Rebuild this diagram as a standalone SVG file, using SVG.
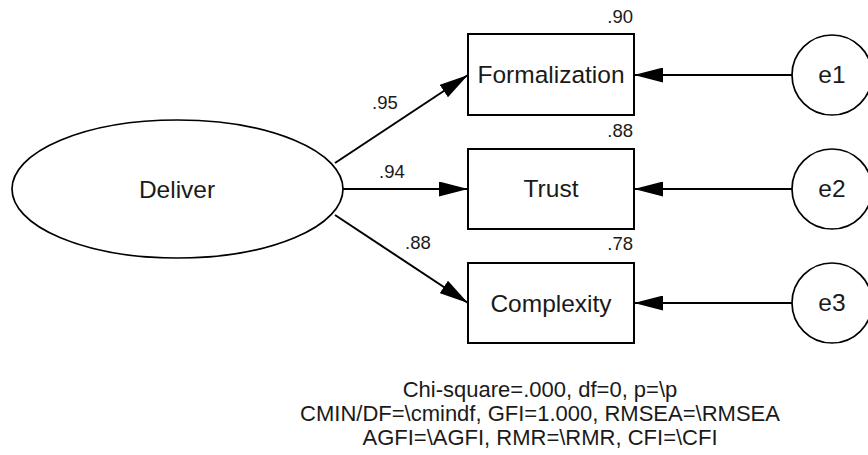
<svg xmlns="http://www.w3.org/2000/svg" width="868" height="455" viewBox="0 0 868 455">
  <style>
    .shape { fill: #ffffff; stroke: #000000; }
    .box { stroke-width: 2; }
    .oval { stroke-width: 1.7; }
    .edge { stroke: #000000; stroke-width: 2; fill: none; marker-end: url(#head); }
    text { font-family: "Liberation Sans", Arial, sans-serif; fill: #1a1a1a; }
    .name { font-size: 24.5px; text-anchor: middle; }
    .coef { font-size: 18.5px; }
    .right { text-anchor: end; }
    .fit { font-size: 22px; text-anchor: middle; }
  </style>
  <defs>
    <marker id="head" markerUnits="userSpaceOnUse" markerWidth="29" markerHeight="15" refX="29" refY="7.5" orient="auto">
      <path d="M0,0 L29,7.5 L0,15 Z" fill="#000000"/>
    </marker>
  </defs>

  <!-- paths: latent factor to indicators, errors to indicators -->
  <g id="connectors">
    <line class="edge" x1="335" y1="163" x2="468" y2="75"/>
    <line class="edge" x1="343" y1="189" x2="468" y2="189"/>
    <line class="edge" x1="335" y1="215" x2="468" y2="303"/>
    <line class="edge" x1="792" y1="75" x2="634" y2="75"/>
    <line class="edge" x1="792" y1="189" x2="634" y2="189"/>
    <line class="edge" x1="792" y1="303" x2="634" y2="303"/>
  </g>

  <!-- standardized loadings -->
  <g id="loadings">
    <text class="coef" x="372" y="109">.95</text>
    <text class="coef" x="379" y="178">.94</text>
    <text class="coef" x="405" y="249">.88</text>
  </g>

  <g id="deliver">
    <ellipse class="shape oval" cx="177.5" cy="189" rx="165.5" ry="69"/>
    <text class="name" x="177" y="198">Deliver</text>
  </g>

  <g id="formalization">
    <rect class="shape box" x="468" y="34" width="166" height="81"/>
    <text class="name" x="551" y="83">Formalization</text>
    <text class="coef right" x="633" y="23">.90</text>
  </g>

  <g id="trust">
    <rect class="shape box" x="468" y="149" width="166" height="80"/>
    <text class="name" x="551" y="197">Trust</text>
    <text class="coef right" x="633" y="137">.88</text>
  </g>

  <g id="complexity">
    <rect class="shape box" x="468" y="263" width="166" height="80"/>
    <text class="name" x="551" y="312">Complexity</text>
    <text class="coef right" x="633" y="250">.78</text>
  </g>

  <g id="e1">
    <circle class="shape oval" cx="832" cy="75" r="40"/>
    <text class="name" x="832" y="83">e1</text>
  </g>
  <g id="e2">
    <circle class="shape oval" cx="832" cy="189" r="40"/>
    <text class="name" x="832" y="197">e2</text>
  </g>
  <g id="e3">
    <circle class="shape oval" cx="832" cy="303" r="40"/>
    <text class="name" x="832" y="311">e3</text>
  </g>

  <!-- model fit summary -->
  <g id="fit-summary">
    <text class="fit" x="540" y="397">Chi-square=.000, df=0, p=\p</text>
    <text class="fit" x="540" y="421">CMIN/DF=\cmindf, GFI=1.000, RMSEA=\RMSEA</text>
    <text class="fit" x="540" y="445">AGFI=\AGFI, RMR=\RMR, CFI=\CFI</text>
  </g>
</svg>
